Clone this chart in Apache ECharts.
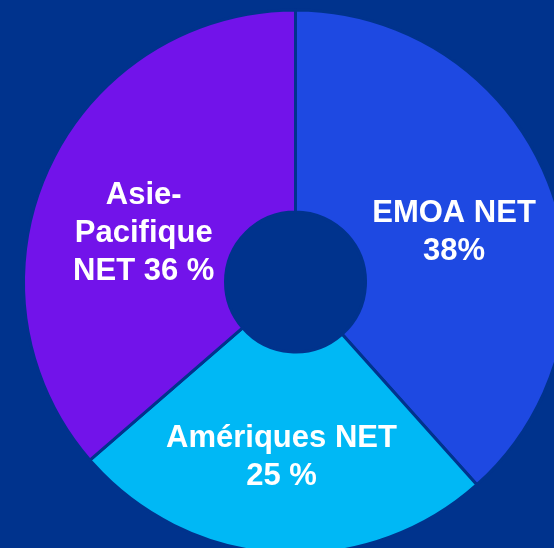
<!DOCTYPE html>
<html>
<head>
<meta charset="utf-8">
<script src="https://cdn.jsdelivr.net/npm/echarts@6/dist/echarts.min.js"></script>
<style>
  html, body { margin: 0; padding: 0; background: #00338D; }
  #chart { width: 554px; height: 548px; }
</style>
</head>
<body>
<div id="chart"></div>
<script>
let regions = ['EMOA NET', 'Amériques NET', 'Asie-Pacifique NET'];
let shares = [38, 25, 36];
let labelTexts = ['EMOA NET\n38%', 'Amériques NET\n25 %', 'Asie-\nPacifique\nNET 36 %'];
let colors = ['#1E49E2', '#00B8F5', '#7213EA'];

// nudges so the labels sit where the original placed them
let labelShift = [[-4, 13], [-3, 2], [6.5, 24]];

let myChart = echarts.init(document.getElementById('chart'));

let data = [];
regions.forEach((name, i) => {
	data.push({
		name: name,
		value: shares[i],
		itemStyle: { color: colors[i] }
	});
});

option = {
	backgroundColor: '#00338D',
	animation: false,
	series: [
		{
			type: 'pie',
			center: [295.5, 282],
			radius: [70, 272],
			startAngle: 90,
			clockwise: true,
			silent: true,
			itemStyle: {
				borderColor: '#00338D',
				borderWidth: 3
			},
			label: {
				show: true,
				position: 'inside',
				color: '#ffffff',
				fontFamily: 'Liberation Sans, Arial, sans-serif',
				fontWeight: 'bold',
				fontSize: 31,
				lineHeight: 38,
				align: 'center',
				formatter: params => labelTexts[params.dataIndex]
			},
			labelLine: { show: false },
			labelLayout: params => ({
				dx: labelShift[params.dataIndex][0],
				dy: labelShift[params.dataIndex][1]
			}),
			data
		}
	]
};

myChart.setOption(option);
</script>
</body>
</html>
